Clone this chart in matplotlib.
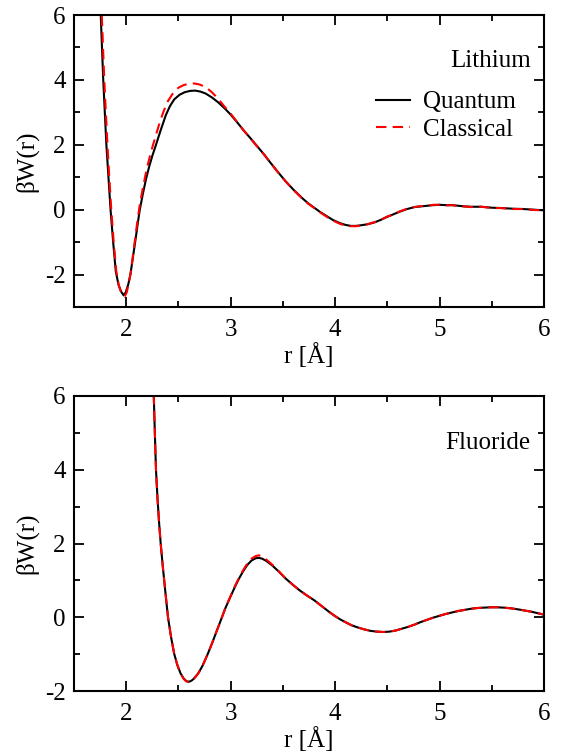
import matplotlib
matplotlib.use("Agg")
import matplotlib.pyplot as plt
from matplotlib.ticker import MultipleLocator

# ---- data: (r [Å], βW(r)) ----
li_quantum = [
    (1.745, 6.5), (1.756, 6.0), (1.768, 5.0), (1.78, 4.0), (1.795, 3.0), (1.81, 2.0), (1.83, 1.0),
    (1.85, 0.0), (1.875, -1.0), (1.90, -1.9), (1.925, -2.3), (1.95, -2.52), (1.975, -2.64),
    (1.995, -2.55), (2.02, -2.3), (2.04, -2.0), (2.065, -1.45), (2.09, -0.9), (2.11, -0.43),
    (2.13, 0.0), (2.16, 0.5), (2.19, 0.95), (2.22, 1.33), (2.25, 1.66), (2.285, 2.0), (2.33, 2.45),
    (2.38, 2.92), (2.42, 3.2), (2.46, 3.40), (2.51, 3.54), (2.56, 3.62), (2.61, 3.66), (2.66, 3.67),
    (2.71, 3.64), (2.76, 3.58), (2.82, 3.46), (2.88, 3.31), (2.94, 3.13), (3.00, 2.93), (3.06, 2.70),
    (3.12, 2.46), (3.19, 2.20), (3.25, 1.97), (3.32, 1.70), (3.38, 1.45), (3.46, 1.13), (3.53, 0.86),
    (3.60, 0.62), (3.68, 0.37), (3.74, 0.20), (3.80, 0.06), (3.86, -0.08), (3.92, -0.20),
    (3.98, -0.32), (4.05, -0.42), (4.10, -0.47), (4.15, -0.50), (4.20, -0.50), (4.25, -0.48),
    (4.31, -0.45), (4.38, -0.39), (4.44, -0.31), (4.50, -0.22), (4.56, -0.14), (4.62, -0.06),
    (4.69, 0.02), (4.76, 0.08), (4.82, 0.10), (4.88, 0.12), (4.94, 0.14), (5.00, 0.15), (5.06, 0.14),
    (5.12, 0.14), (5.18, 0.12), (5.24, 0.10), (5.30, 0.09), (5.40, 0.09), (5.50, 0.06), (5.59, 0.05),
    (5.70, 0.03), (5.80, 0.02), (5.90, 0.00), (6.00, -0.02),
]
li_classical = [
    (1.755, 6.5), (1.766, 6.0), (1.778, 5.0), (1.79, 4.0), (1.805, 3.0), (1.82, 2.0), (1.838, 1.0),
    (1.857, 0.0), (1.88, -1.0), (1.905, -1.9), (1.93, -2.35), (1.955, -2.58), (1.985, -2.68),
    (2.005, -2.55), (2.025, -2.25), (2.045, -1.9), (2.065, -1.4), (2.085, -0.9), (2.105, -0.4),
    (2.125, 0.05), (2.155, 0.6), (2.185, 1.08), (2.215, 1.5), (2.245, 1.87), (2.28, 2.25),
    (2.32, 2.68), (2.36, 3.05), (2.40, 3.35), (2.45, 3.60), (2.50, 3.76), (2.55, 3.84), (2.60, 3.88),
    (2.65, 3.89), (2.70, 3.86), (2.76, 3.78), (2.82, 3.62), (2.88, 3.42), (2.94, 3.18), (3.00, 2.96),
    (3.06, 2.71), (3.12, 2.46), (3.19, 2.19), (3.25, 1.96), (3.32, 1.70), (3.38, 1.45), (3.46, 1.12),
    (3.53, 0.86), (3.60, 0.61), (3.68, 0.36), (3.74, 0.19), (3.80, 0.05), (3.86, -0.09),
    (3.92, -0.22), (3.98, -0.34), (4.05, -0.44), (4.10, -0.49), (4.15, -0.51), (4.20, -0.51),
    (4.25, -0.49), (4.31, -0.45), (4.38, -0.38), (4.44, -0.31), (4.50, -0.21), (4.56, -0.15),
    (4.62, -0.05), (4.69, 0.03), (4.76, 0.08), (4.82, 0.11), (4.88, 0.12), (4.94, 0.15), (5.00, 0.15),
    (5.06, 0.13), (5.12, 0.14), (5.18, 0.11), (5.24, 0.10), (5.30, 0.08), (5.40, 0.09), (5.50, 0.05),
    (5.59, 0.05), (5.70, 0.02), (5.80, 0.02), (5.90, -0.01), (6.00, -0.02),
]
f_quantum = [
    (2.255, 6.5), (2.264, 6.0), (2.274, 5.0), (2.285, 4.0), (2.30, 3.2), (2.315, 2.55), (2.33, 2.0),
    (2.35, 1.38), (2.375, 0.68), (2.40, 0.0), (2.43, -0.55), (2.46, -1.0), (2.49, -1.3),
    (2.52, -1.52), (2.55, -1.66), (2.575, -1.73), (2.60, -1.75), (2.625, -1.72), (2.65, -1.66),
    (2.69, -1.52), (2.73, -1.32), (2.78, -1.0), (2.82, -0.72), (2.86, -0.42), (2.91, -0.05),
    (2.95, 0.25), (3.00, 0.57), (3.04, 0.82), (3.08, 1.05), (3.12, 1.25), (3.16, 1.42), (3.20, 1.54),
    (3.24, 1.60), (3.27, 1.61), (3.30, 1.59), (3.34, 1.53), (3.40, 1.40), (3.46, 1.24), (3.53, 1.04),
    (3.60, 0.87), (3.66, 0.73), (3.73, 0.59), (3.80, 0.46), (3.85, 0.35), (3.90, 0.24), (3.95, 0.13),
    (4.00, 0.03), (4.05, -0.06), (4.11, -0.15), (4.16, -0.22), (4.22, -0.28), (4.28, -0.33),
    (4.34, -0.37), (4.40, -0.39), (4.46, -0.40), (4.52, -0.39), (4.58, -0.36), (4.64, -0.31),
    (4.70, -0.26), (4.76, -0.20), (4.82, -0.13), (4.88, -0.07), (4.94, -0.01), (5.00, 0.04),
    (5.06, 0.09), (5.12, 0.13), (5.18, 0.17), (5.24, 0.20), (5.30, 0.23), (5.36, 0.25), (5.42, 0.26),
    (5.49, 0.27), (5.55, 0.27), (5.62, 0.26), (5.69, 0.24), (5.76, 0.21), (5.82, 0.18), (5.88, 0.15),
    (5.94, 0.11), (6.00, 0.07),
]
f_classical = [
    (2.255, 6.5), (2.264, 6.0), (2.274, 5.0), (2.285, 4.0), (2.30, 3.2), (2.315, 2.55), (2.33, 2.0),
    (2.35, 1.38), (2.375, 0.68), (2.40, 0.0), (2.43, -0.55), (2.46, -1.0), (2.49, -1.3),
    (2.52, -1.53), (2.55, -1.67), (2.575, -1.74), (2.60, -1.76), (2.625, -1.73), (2.65, -1.66),
    (2.69, -1.52), (2.73, -1.32), (2.78, -1.0), (2.82, -0.72), (2.86, -0.42), (2.91, -0.05),
    (2.95, 0.26), (3.00, 0.58), (3.04, 0.84), (3.08, 1.07), (3.12, 1.28), (3.16, 1.46), (3.20, 1.59),
    (3.24, 1.66), (3.27, 1.68), (3.30, 1.65), (3.34, 1.57), (3.40, 1.42), (3.46, 1.25), (3.53, 1.04),
    (3.60, 0.87), (3.66, 0.73), (3.73, 0.59), (3.80, 0.46), (3.85, 0.35), (3.90, 0.24), (3.95, 0.13),
    (4.00, 0.03), (4.05, -0.06), (4.11, -0.15), (4.16, -0.22), (4.22, -0.28), (4.28, -0.33),
    (4.34, -0.37), (4.40, -0.39), (4.46, -0.40), (4.52, -0.39), (4.58, -0.36), (4.64, -0.31),
    (4.70, -0.26), (4.76, -0.20), (4.82, -0.13), (4.88, -0.07), (4.94, -0.01), (5.00, 0.04),
    (5.06, 0.09), (5.12, 0.13), (5.18, 0.17), (5.24, 0.20), (5.30, 0.23), (5.36, 0.25), (5.42, 0.26),
    (5.49, 0.27), (5.55, 0.27), (5.62, 0.26), (5.69, 0.24), (5.76, 0.21), (5.82, 0.18), (5.88, 0.15),
    (5.94, 0.11), (6.00, 0.07),
]

series_labels = ["Quantum", "Classical"]
panel_names = ["Lithium", "Fluoride"]
x_label = "r [Å]"
y_label = "βW(r)"

plt.rcParams['font.family'] = ['Liberation Serif', 'DejaVu Serif']
plt.rcParams['font.size'] = 18
plt.rcParams['axes.unicode_minus'] = False

FS = 18

fig = plt.figure(figsize=(5.62, 7.52), dpi=100)
ax1 = fig.add_axes([74/562, 1-307/752, 470/562, 292/752])
ax2 = fig.add_axes([74/562, 1-691/752, 470/562, 295/752])

panels = [
    (ax1, li_quantum, li_classical, (-3, 6), panel_names[0]),
    (ax2, f_quantum, f_classical, (-2, 6), panel_names[1]),
]

for ax, q, c, ylim, name in panels:
    qr, qv = zip(*q)
    cr, cv = zip(*c)
    ax.plot(qr, qv, color='black', lw=1.5, label=series_labels[0])
    ax.plot(cr, cv, color='red', lw=1.5, dashes=(5, 3), label=series_labels[1])
    ax.set_xlim(1.5, 6)
    ax.set_ylim(*ylim)
    ax.xaxis.set_major_locator(MultipleLocator(1))
    ax.xaxis.set_minor_locator(MultipleLocator(0.5))
    ax.yaxis.set_major_locator(MultipleLocator(2))
    ax.yaxis.set_minor_locator(MultipleLocator(1))
    ax.tick_params(which='both', direction='in', top=True, right=True, width=1.3, labelsize=FS)
    ax.tick_params(axis='x', which='both', pad=9)
    ax.tick_params(axis='y', which='both', pad=6)
    ax.tick_params(which='major', length=7.5)
    ax.tick_params(which='minor', length=4)
    for s in ax.spines.values():
        s.set_linewidth(1.5)
    ax.set_xlabel(x_label, fontsize=FS, labelpad=1)
    ax.set_ylabel(y_label, fontsize=FS, labelpad=5)
    ax.text(0.972, 0.842, name, transform=ax.transAxes, ha='right', va='center', fontsize=FS)

ax1.legend(loc='upper right', bbox_to_anchor=(0.94, 0.74), frameon=False, fontsize=FS,
           handlelength=1.36, handletextpad=0.52, labelspacing=0.2, borderpad=0, borderaxespad=0)

fig.savefig("out.png", dpi=100)
